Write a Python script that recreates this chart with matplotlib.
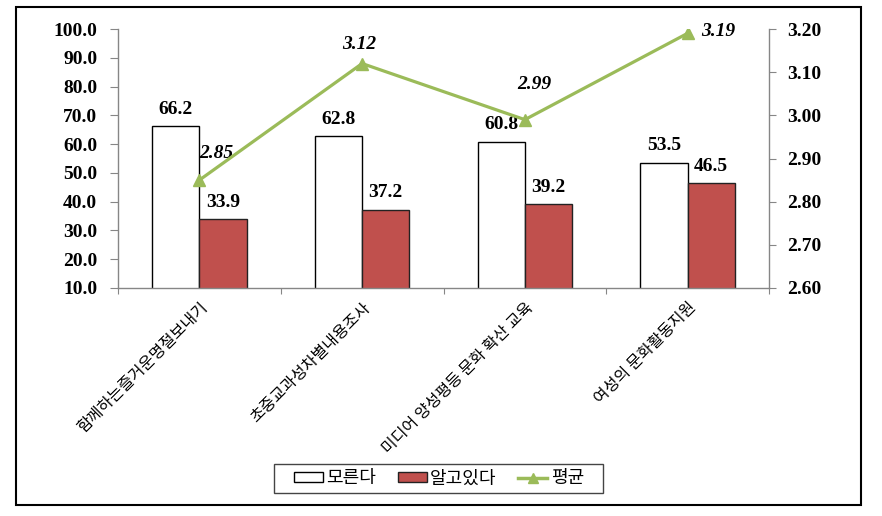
import matplotlib
matplotlib.use("Agg")
import matplotlib.pyplot as plt
from matplotlib.patches import Rectangle
from matplotlib.lines import Line2D
import numpy as np

categories = ["함께하는즐거운명절보내기", "초중교과성차별내용조사", "미디어 양성평등 문화 확산 교육", "여성의 문화활동지원"]
unknown = [66.2, 62.8, 60.8, 53.5]
known = [33.9, 37.2, 39.2, 46.5]
average = [2.85, 3.12, 2.99, 3.19]
left_ticks = [10.0, 20.0, 30.0, 40.0, 50.0, 60.0, 70.0, 80.0, 90.0, 100.0]
right_ticks = [2.60, 2.70, 2.80, 2.90, 3.00, 3.10, 3.20]
legend_labels = ["모른다", "알고있다", "평균"]

W, H = 882, 516
fig = plt.figure(figsize=(W / 100, H / 100), dpi=100)

# outer frame
fig.patches.append(Rectangle((16 / W, 1 - 505 / H), (861 - 16) / W, (505 - 7) / H,
                             transform=fig.transFigure, fill=False, edgecolor="black", linewidth=1.5))
# legend frame
fig.patches.append(Rectangle((274 / W, 1 - 493 / H), (603 - 274) / W, (493 - 464) / H,
                             transform=fig.transFigure, fill=False, edgecolor="#444444", linewidth=1.0))

ax = fig.add_axes([118 / W, 1 - 288 / H, (769 - 118) / W, (288 - 29) / H])
ax2 = ax.twinx()

serif = "Liberation Serif"
kr = ["Noto Sans CJK KR", "DejaVu Sans"]
gray = "#868686"
num_fs = 14

x = np.arange(len(categories))
bw = 0.29
ax.bar(x - bw / 2, unknown, bw, color="white", edgecolor="black", linewidth=1.0, zorder=2)
ax.bar(x + bw / 2, known, bw, color="#C0504D", edgecolor="#222222", linewidth=1.0, zorder=2)

for xi, v in zip(x - bw / 2, unknown):
    ax.annotate(f"{v:.1f}", (xi, v), xytext=(0, 6), textcoords="offset points",
                ha="center", va="bottom", fontsize=num_fs, fontweight="bold", family=serif)
for xi, v in zip(x + bw / 2, known):
    ax.annotate(f"{v:.1f}", (xi, v), xytext=(0, 6), textcoords="offset points",
                ha="center", va="bottom", fontsize=num_fs, fontweight="bold", family=serif)

ax.set_xlim(-0.5, len(categories) - 0.5)
ax.set_ylim(10, 100)
ax.set_yticks(left_ticks)
ax.set_yticklabels([f"{t:.1f}" for t in left_ticks], fontsize=num_fs, fontweight="bold", family=serif)
ax.set_xticks(np.arange(len(categories) + 1) - 0.5)
ax.set_xticklabels([])
ax.set_xticks(x, minor=True)
ax.set_xticklabels(categories, minor=True, rotation=45, ha="right", va="top",
                   rotation_mode="anchor", fontsize=11.5, family=kr)
ax.tick_params(axis="x", which="minor", length=0, pad=8)
ax.tick_params(axis="x", which="major", length=4, color=gray, direction="out")
ax.tick_params(axis="y", length=6, color=gray, direction="out", pad=9)

ax2.plot(x, average, color="#9BBB59", linewidth=2.3, marker="^", markersize=8, zorder=5)
ax2.set_ylim(2.6, 3.2)
ax2.set_yticks(right_ticks)
ax2.set_yticklabels([f"{t:.2f}" for t in right_ticks], fontsize=num_fs, fontweight="bold", family=serif)
ax2.tick_params(axis="y", length=5, color=gray, direction="out", pad=8)

offsets = [(12, 19), (-2, 14), (7, 25), (22, 1)]
for xi, v, off in zip(x, average, offsets):
    ax2.annotate(f"{v:.2f}", (xi, v), xytext=off, textcoords="offset points",
                 ha="center", va="center", fontsize=num_fs, fontweight="bold", style="italic", family=serif)

for a in (ax, ax2):
    a.spines["top"].set_visible(False)
    for s in ("left", "right", "bottom"):
        a.spines[s].set_color(gray)
        a.spines[s].set_linewidth(1.0)
ax.spines["right"].set_visible(False)
ax2.spines["left"].set_visible(False)
ax2.spines["bottom"].set_visible(False)
ax.set_zorder(1)
ax2.set_zorder(2)
ax2.patch.set_visible(False)

handles = [Rectangle((0, 0), 1, 1, facecolor="white", edgecolor="black"),
           Rectangle((0, 0), 1, 1, facecolor="#C0504D", edgecolor="#222222"),
           Line2D([], [], color="#9BBB59", linewidth=2.5, marker="^", markersize=7)]
leg = fig.legend(handles, legend_labels, loc="center", bbox_to_anchor=(439 / W, 1 - 478.5 / H),
                 ncol=3, frameon=False,
                 prop={"family": kr, "size": 13}, handlelength=1.6, handleheight=0.4,
                 handletextpad=0.2, columnspacing=1.2, borderpad=0.3)

fig.savefig("out.png", dpi=100)
